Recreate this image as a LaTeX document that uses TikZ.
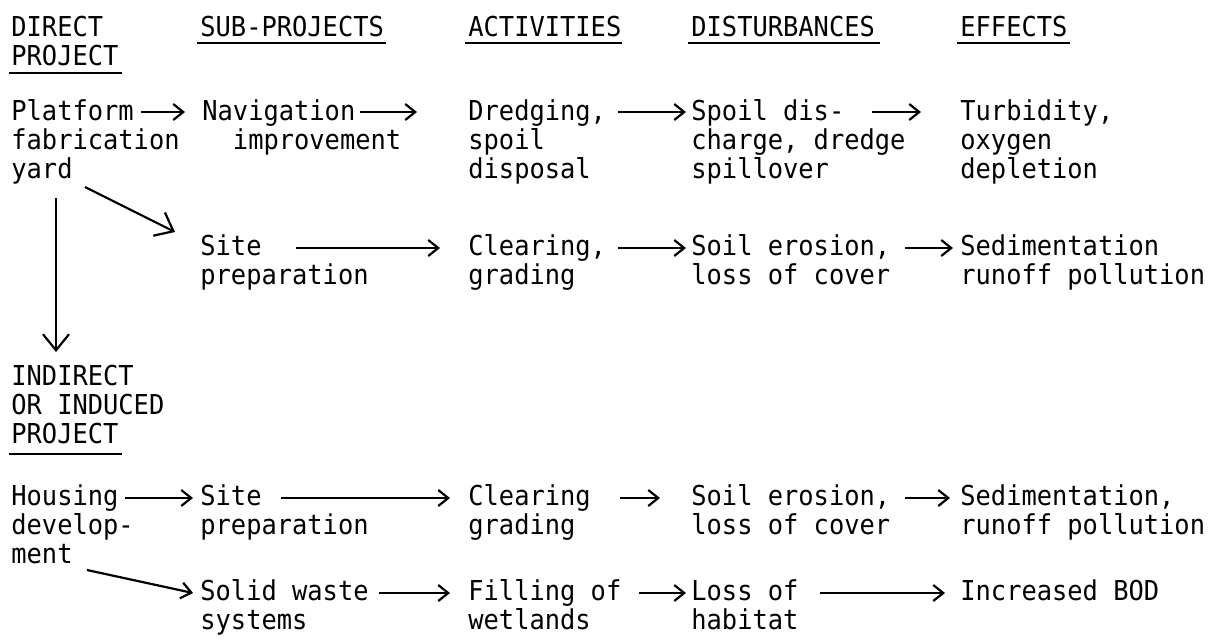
\documentclass[tikz,border=0pt]{standalone}
\usepackage{fontspec}
\usetikzlibrary{arrows.meta}
\newfontfamily\tw[FakeStretch=0.927]{DejaVu Sans Mono}
\newcommand\twolines[2]{\vtop{\hbox{#1}\hbox{#2}}}
\newcommand\threelines[3]{\vtop{\hbox{#1}\hbox{#2}\hbox{#3}}}
\begin{document}
\begin{tikzpicture}[x=0.5pt,y=-0.5pt,
  txt/.style={anchor=base west,inner sep=0pt,
    font=\tw\fontsize{13.7pt}{14.6pt}\selectfont},
  arr/.style={line width=1.1pt,-{Straight Barb[length=5pt,width=8pt]}},
  bigarr/.style={line width=1.1pt,-{Straight Barb[length=8pt,width=13pt]}},
  uline/.style={line width=0.7pt}]
\useasboundingbox[fill=white] (0,0) rectangle (1212,639);
% headers
\node[txt] (hd1) at (11,36) {\twolines{DIRECT}{PROJECT}};
\node[txt] (hs) at (200,36) {SUB-PROJECTS};
\node[txt] (ha) at (468,36) {ACTIVITIES};
\node[txt] (hdi) at (691,36) {DISTURBANCES};
\node[txt] (he) at (960,36) {EFFECTS};
\draw[uline] (9,73) -- (122,73);
\draw[uline] (197,43) -- (386,43);
\draw[uline] (465,43) -- (622,43);
\draw[uline] (688,43) -- (880,43);
\draw[uline] (957,43) -- (1070,43);
% row 1
\node[txt] (pf) at (11,120) {\threelines{Platform}{fabrication}{yard}};
\node[txt] (nav) at (202,120) {\twolines{Navigation}{\phantom{Na}improvement}};
\node[txt] (dr) at (468,120) {\threelines{Dredging,}{spoil}{disposal}};
\node[txt] (sp) at (691,120) {\threelines{Spoil dis-}{charge, dredge}{spillover}};
\node[txt] (tu) at (960,120) {\threelines{Turbidity,}{oxygen}{depletion}};
% row 2
\node[txt] (sit1) at (200,255) {\twolines{Site}{preparation}};
\node[txt] (cl1) at (468,255) {\twolines{Clearing,}{grading}};
\node[txt] (so1) at (691,255) {\twolines{Soil erosion,}{loss of cover}};
\node[txt] (se1) at (960,255) {\twolines{Sedimentation}{runoff pollution}};
% indirect
\node[txt] (ind) at (11,385) {\threelines{INDIRECT}{OR INDUCED}{PROJECT}};
\draw[uline] (9,454) -- (122,454);
% row 3
\node[txt] (ho) at (11,505) {\threelines{Housing}{develop-}{ment}};
\node[txt] (sit2) at (200,505) {\twolines{Site}{preparation}};
\node[txt] (cl2) at (468,505) {\twolines{Clearing}{grading}};
\node[txt] (so2) at (691,505) {\twolines{Soil erosion,}{loss of cover}};
\node[txt] (se2) at (960,505) {\twolines{Sedimentation,}{runoff pollution}};
% row 4
\node[txt] (sw) at (200,600) {\twolines{Solid waste}{systems}};
\node[txt] (fi) at (468,600) {\twolines{Filling of}{wetlands}};
\node[txt] (lo) at (691,600) {\twolines{Loss of}{habitat}};
\node[txt] (ib) at (960,600) {Increased BOD};
% arrows row 1
\draw[arr] ([shift={(130,-8)}]pf.base west) -- ([shift={(-17,-8)}]nav.base west);
\draw[arr] ([shift={(158,-8)}]nav.base west) -- ([shift={(-51,-8)}]dr.base west);
\draw[arr] ([shift={(150,-8)}]dr.base west) -- ([shift={(-5,-8)}]sp.base west);
\draw[arr] ([shift={(181,-8)}]sp.base west) -- ([shift={(-39,-8)}]tu.base west);
\draw[bigarr] ([shift={(74,67)}]pf.base west) -- ([shift={(-25,-23)}]sit1.base west);
\draw[bigarr] ([shift={(45,78)}]pf.base west) -- ([shift={(45,-33)}]ind.base west);
% arrows row 2
\draw[arr] ([shift={(96,-7)}]sit1.base west) -- ([shift={(-28,-7)}]cl1.base west);
\draw[arr] ([shift={(150,-7)}]cl1.base west) -- ([shift={(-5,-7)}]so1.base west);
\draw[arr] ([shift={(214,-7)}]so1.base west) -- ([shift={(-7,-7)}]se1.base west);
% arrows row 3
\draw[arr] ([shift={(114,-7)}]ho.base west) -- ([shift={(-7,-7)}]sit2.base west);
\draw[arr] ([shift={(81,-7)}]sit2.base west) -- ([shift={(-18,-7)}]cl2.base west);
\draw[arr] ([shift={(152,-7)}]cl2.base west) -- ([shift={(-31,-7)}]so2.base west);
\draw[arr] ([shift={(214,-7)}]so2.base west) -- ([shift={(-10,-7)}]se2.base west);
\draw[arr] ([shift={(76,65)}]ho.base west) -- ([shift={(-7,-7)}]sw.base west);
% arrows row 4
\draw[arr] ([shift={(179,-7)}]sw.base west) -- ([shift={(-18,-7)}]fi.base west);
\draw[arr] ([shift={(171,-7)}]fi.base west) -- ([shift={(-5,-7)}]lo.base west);
\draw[arr] ([shift={(129,-7)}]lo.base west) -- ([shift={(-15,-7)}]ib.base west);
\end{tikzpicture}
\end{document}
